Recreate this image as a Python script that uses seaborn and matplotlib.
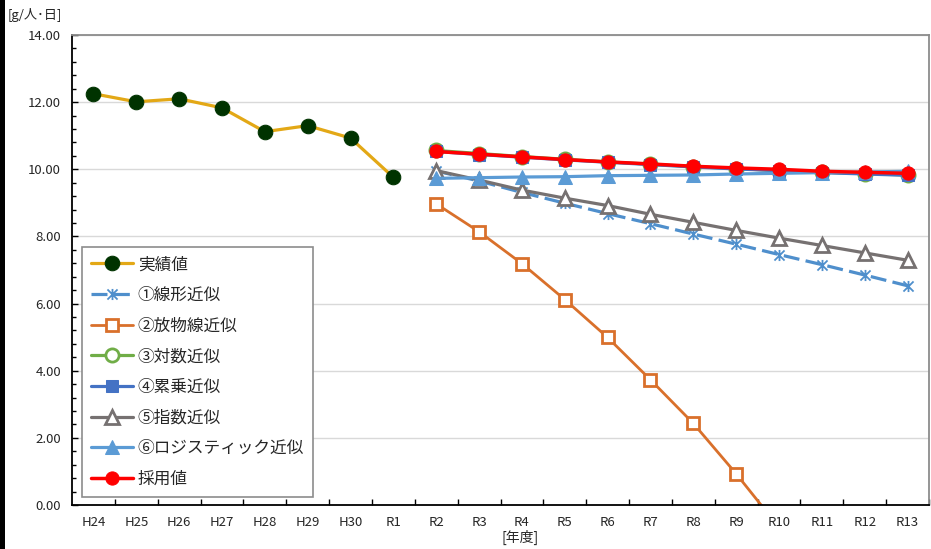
import numpy as np
import pandas as pd
import seaborn as sns
import matplotlib
matplotlib.use("Agg")
from matplotlib import pyplot as plt
from matplotlib.path import Path
from matplotlib.patches import Rectangle
from matplotlib.ticker import MultipleLocator, FormatStrFormatter

# fiscal years on the x axis
years = ["H24", "H25", "H26", "H27", "H28", "H29", "H30", "R1",
         "R2", "R3", "R4", "R5", "R6", "R7", "R8", "R9",
         "R10", "R11", "R12", "R13"]
past_years = years[:8]
future_years = years[8:]

# g/person/day
actual = [12.25, 12.01, 12.10, 11.83, 11.12, 11.30, 10.93, 9.76]
linear = [9.95, 9.65, 9.31, 8.99, 8.68, 8.38, 8.07, 7.77, 7.46, 7.16, 6.85, 6.53]
parabolic = [8.97, 8.14, 7.19, 6.12, 4.99, 3.73, 2.43, 0.93, -0.67, -2.40, -4.20, -6.10]
logarithmic = [10.56, 10.47, 10.38, 10.30, 10.22, 10.15, 10.08, 10.02, 9.96, 9.91, 9.87, 9.83]
power = [10.53, 10.44, 10.36, 10.28, 10.21, 10.14, 10.07, 10.01, 9.96, 9.90, 9.86, 9.82]
exponential = [9.96, 9.68, 9.38, 9.14, 8.92, 8.66, 8.42, 8.18, 7.95, 7.73, 7.51, 7.29]
logistic = [9.73, 9.75, 9.77, 9.78, 9.81, 9.82, 9.83, 9.86, 9.88, 9.90, 9.92, 9.94]
adopted = [10.53, 10.45, 10.37, 10.29, 10.22, 10.16, 10.09, 10.04, 10.00, 9.94, 9.91, 9.88]

labels = ["実績値", "①線形近似", "②放物線近似", "③対数近似", "④累乗近似",
          "⑤指数近似", "⑥ロジスティック近似", "採用値"]

pos = {y: i for i, y in enumerate(years)}

star = Path([(-1, -1), (1, 1), (-1, 1), (1, -1), (0, -1.1), (0, 1.1)],
            [Path.MOVETO, Path.LINETO, Path.MOVETO, Path.LINETO, Path.MOVETO, Path.LINETO])

series = [
    (past_years, actual, dict(color="#E3A816", marker="o", markersize=10.5,
                              markerfacecolor="#003300", markeredgecolor="#003300", linewidth=2.3)),
    (future_years, linear, dict(color="#4F8FCC", marker=star, markersize=8,
                                markeredgewidth=1.3, markeredgecolor="#4F8FCC",
                                linewidth=2.3, linestyle=(0, (5, 2)))),
    (future_years, parabolic, dict(color="#D9702B", marker="s", markersize=8.5,
                                   markerfacecolor="white", markeredgecolor="#D9702B",
                                   markeredgewidth=2, linewidth=2)),
    (future_years, logarithmic, dict(color="#70AD47", marker="o", markersize=9.5,
                                     markerfacecolor="white", markeredgecolor="#70AD47",
                                     markeredgewidth=2, linewidth=2.3)),
    (future_years, power, dict(color="#4472C4", marker="s", markersize=9,
                               markerfacecolor="#4472C4", markeredgecolor="#4472C4", linewidth=2.3)),
    (future_years, exponential, dict(color="#767171", marker="^", markersize=10,
                                     markerfacecolor="white", markeredgecolor="#767171",
                                     markeredgewidth=2, linewidth=2.3)),
    (future_years, logistic, dict(color="#5B9BD5", marker="^", markersize=10,
                                  markerfacecolor="#5B9BD5", markeredgecolor="#5B9BD5", linewidth=2.3)),
    (future_years, adopted, dict(color="#FF0000", marker="o", markersize=9.5,
                                 markerfacecolor="#FF0000", markeredgecolor="#FF0000", linewidth=2.5)),
]

sns.set_style("white")
plt.rcParams["font.family"] = ["Noto Sans CJK JP", "DejaVu Sans"]

fig = plt.figure(figsize=(9.31, 5.49), dpi=100)
ax = fig.add_axes([72 / 931, 1 - 505 / 549, (929 - 72) / 931, (505 - 35) / 549])

for (xs, vals, style), lab in zip(series, labels):
    df = pd.DataFrame({"x": [pos[y] for y in xs], "value": vals})
    sns.lineplot(data=df, x="x", y="value", ax=ax, label=lab, **style)

ax.set_xlim(-0.5, len(years) - 0.5)
ax.set_ylim(0, 14)
ax.set_xlabel("")
ax.set_ylabel("")

ax.set_xticks(range(len(years)))
ax.set_xticklabels(years, fontsize=9.5)
ax.set_xticks(np.arange(0.5, len(years), 1), minor=True)
ax.tick_params(axis="x", which="major", length=0, pad=8)
ax.tick_params(axis="x", which="minor", direction="in", length=4, width=1, color="black", bottom=True)

ax.yaxis.set_major_locator(MultipleLocator(2))
ax.yaxis.set_minor_locator(MultipleLocator(0.4))
ax.yaxis.set_major_formatter(FormatStrFormatter("%.2f"))
ax.tick_params(axis="y", which="both", direction="in", left=True, color="black", width=1, labelsize=9.5, pad=8)
ax.tick_params(axis="y", which="major", length=4)
ax.tick_params(axis="y", which="minor", length=3)

ax.grid(axis="y", color="#D9D9D9", linewidth=1)
ax.grid(axis="x", visible=False)
ax.set_axisbelow(True)

for side in ["left", "bottom"]:
    ax.spines[side].set_color("black")
    ax.spines[side].set_linewidth(1.3)
for side in ["top", "right"]:
    ax.spines[side].set_color("#8C8C8C")
    ax.spines[side].set_linewidth(1.3)

leg = ax.legend(loc="lower left", bbox_to_anchor=(82 / 931, 1 - 497 / 549),
                bbox_transform=fig.transFigure, borderaxespad=0, fontsize=12,
                handlelength=2.5, handletextpad=0.3, labelspacing=0.82,
                borderpad=0.55, fancybox=False, framealpha=1, edgecolor="#8C8C8C")
leg.get_frame().set_linewidth(1.2)

fig.text(8 / 931, 1 - 15 / 549, "[g/人･日]", ha="left", va="center", fontsize=9.5)
fig.text(520 / 931, 1 - 537 / 549, "[年度]", ha="center", va="center", fontsize=10)

fig.patches.append(Rectangle((0, 0), 5 / 931, 1, transform=fig.transFigure,
                             facecolor="black", edgecolor="none"))

fig.savefig("out.png", dpi=100)
